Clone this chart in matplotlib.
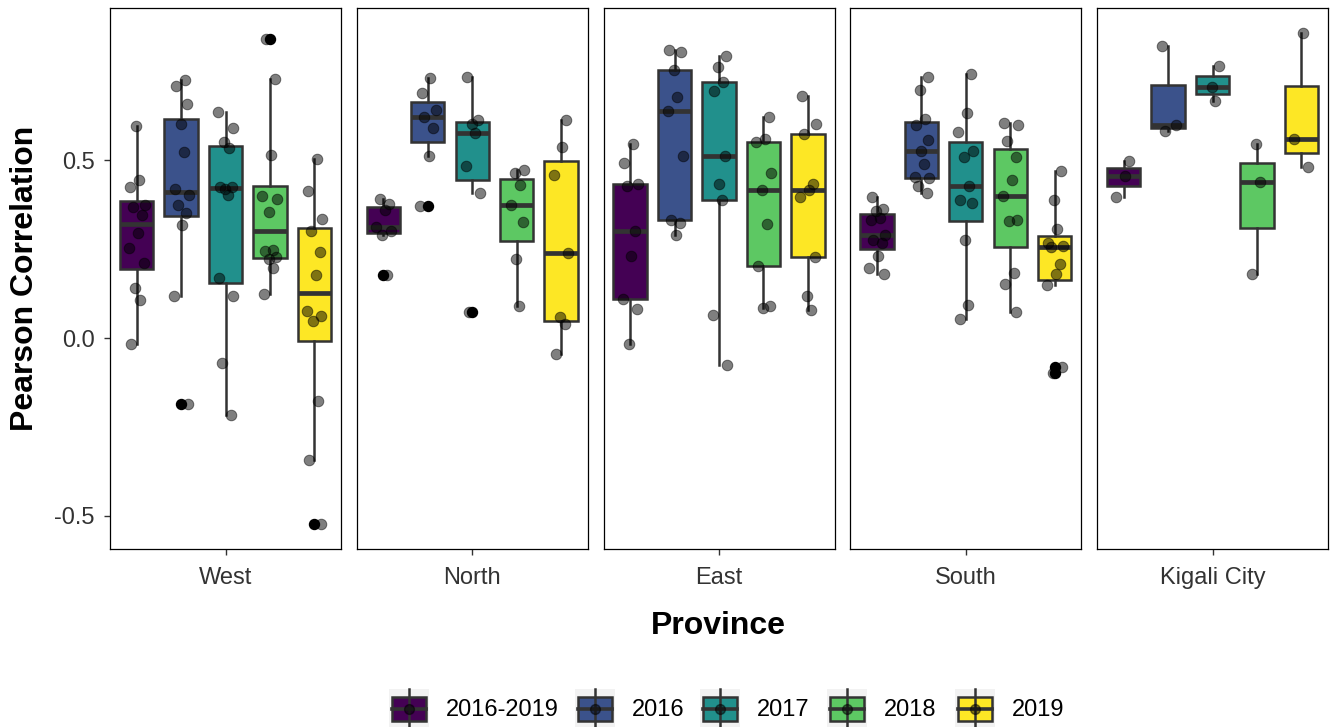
import numpy as np
import matplotlib
matplotlib.use("Agg")
import matplotlib.pyplot as plt
from matplotlib.patches import Rectangle

plt.rcParams['font.family'] = ['Liberation Sans', 'DejaVu Sans']

provinces = ['West', 'North', 'East', 'South', 'Kigali City']
years = ['2016-2019', '2016', '2017', '2018', '2019']
colors = ['#440154', '#3B528B', '#21908C', '#5DC863', '#FDE725']

# pearson correlation per district, one list per year group
west = [
    [-0.017, 0.106, 0.142, 0.212, 0.254, 0.296, 0.347, 0.369, 0.373, 0.425, 0.445, 0.595],
    [-0.186, 0.119, 0.319, 0.352, 0.375, 0.403, 0.419, 0.523, 0.602, 0.658, 0.710, 0.725],
    [-0.216, -0.070, 0.118, 0.169, 0.401, 0.419, 0.424, 0.425, 0.535, 0.550, 0.592, 0.637],
    [0.123, 0.198, 0.221, 0.228, 0.245, 0.249, 0.354, 0.391, 0.399, 0.515, 0.728, 0.842],
    [-0.524, -0.342, -0.178, 0.049, 0.063, 0.077, 0.176, 0.242, 0.301, 0.335, 0.413, 0.503],
]
north = [
    [0.177, 0.289, 0.301, 0.313, 0.361, 0.378, 0.391],
    [0.370, 0.513, 0.592, 0.621, 0.641, 0.688, 0.730],
    [0.074, 0.408, 0.483, 0.578, 0.601, 0.613, 0.735],
    [0.091, 0.221, 0.327, 0.373, 0.431, 0.464, 0.473],
    [-0.045, 0.039, 0.058, 0.240, 0.459, 0.537, 0.612],
]
east = [
    [-0.017, 0.083, 0.110, 0.232, 0.301, 0.429, 0.434, 0.492, 0.547],
    [0.291, 0.324, 0.331, 0.512, 0.638, 0.678, 0.753, 0.805, 0.810],
    [-0.077, 0.065, 0.389, 0.434, 0.513, 0.695, 0.720, 0.763, 0.793],
    [0.085, 0.090, 0.202, 0.322, 0.417, 0.464, 0.550, 0.560, 0.622],
    [0.078, 0.118, 0.229, 0.397, 0.417, 0.434, 0.575, 0.602, 0.680],
]
south = [
    [0.179, 0.198, 0.231, 0.268, 0.277, 0.291, 0.333, 0.338, 0.357, 0.363, 0.396],
    [0.409, 0.429, 0.449, 0.454, 0.489, 0.527, 0.557, 0.600, 0.615, 0.698, 0.735],
    [0.055, 0.093, 0.277, 0.381, 0.389, 0.429, 0.510, 0.525, 0.580, 0.632, 0.742],
    [0.073, 0.151, 0.184, 0.330, 0.331, 0.399, 0.444, 0.510, 0.555, 0.598, 0.605],
    [-0.097, -0.080, 0.149, 0.179, 0.207, 0.256, 0.260, 0.268, 0.308, 0.389, 0.470],
]
kigali = [
    [0.397, 0.457, 0.499],
    [0.582, 0.600, 0.822],
    [0.668, 0.707, 0.765],
    [0.179, 0.439, 0.547],
    [0.482, 0.560, 0.859],
]
by_province = [west, north, east, south, kigali]

# fixed horizontal spread for the points
jitter = [-0.12, 0.08, -0.03, 0.16, -0.17, 0.03, 0.12, -0.08, 0.18, -0.14, 0.06, -0.01, 0.14]

W, H = 1330, 727
fig = plt.figure(figsize=(W / 100, H / 100), dpi=100)

allv = np.concatenate([np.array(g) for p in by_province for g in p])
span = allv.max() - allv.min()
ylo, yhi = allv.min() - 0.05 * span, allv.max() + 0.05 * span

edge = '#333333'
pos = np.arange(1, 6)
for i, (prov, groups) in enumerate(zip(provinces, by_province)):
    ax = fig.add_axes([(110 + i * 246.75) / W, 1 - 549 / H, 231 / W, 541 / H])
    bp = ax.boxplot(groups, positions=pos, widths=0.75, patch_artist=True,
                    showcaps=False,
                    medianprops=dict(color=edge, lw=3.4),
                    boxprops=dict(edgecolor=edge, lw=1.8),
                    whiskerprops=dict(color=edge, lw=1.8),
                    flierprops=dict(marker='o', markerfacecolor='black',
                                    markeredgecolor='black', markersize=7.2))
    for patch, c in zip(bp['boxes'], colors):
        patch.set_facecolor(c)
    for k, g in enumerate(groups):
        offs = np.array([jitter[(j + 3 * k + i) % len(jitter)] for j in range(len(g))])
        ax.scatter(pos[k] + offs, g, s=58, color='black', alpha=0.5,
                   edgecolor='black', linewidths=0.7, zorder=3)
    ax.set_xlim(0.4, 5.6)
    ax.set_ylim(ylo, yhi)
    ax.set_xticks([3])
    ax.set_xticklabels([prov])
    ax.set_yticks([-0.5, 0, 0.5])
    ax.set_yticklabels(['-0.5', '0.0', '0.5'])
    ax.tick_params(labelsize=17, color=edge, labelcolor='#333333', length=4, width=1, pad=7)
    ax.tick_params(axis='x', pad=9)
    if i > 0:
        ax.tick_params(axis='y', left=False, labelleft=False)
    for sp in ax.spines.values():
        sp.set_color('black')
        sp.set_linewidth(0.9)

fig.text(25 / W, 1 - 278 / H, 'Pearson Correlation', rotation=90, fontsize=23,
         fontweight='bold', ha='center', va='center')
fig.text(718.5 / W, 1 - 626 / H, 'Province', fontsize=23, fontweight='bold',
         ha='center', va='center')

# legend with little boxplot keys
lax = fig.add_axes([0, 0, 1, 1])
lax.set_xlim(0, W)
lax.set_ylim(H, 0)
lax.axis('off')
key_lefts = [389, 575, 700, 827, 955]
for left, yr, c in zip(key_lefts, years, colors):
    xc = left + 20
    lax.add_patch(Rectangle((left, 689), 40, 40, facecolor='#F2F2F2', edgecolor='none'))
    lax.plot([xc, xc], [689, 729], color=edge, lw=1.8)
    lax.add_patch(Rectangle((left + 3, 697), 34, 24, facecolor=c, edgecolor=edge, lw=1.8))
    lax.plot([left + 3, left + 37], [709, 709], color=edge, lw=2.6)
    lax.scatter([xc], [709], s=50, color='black', alpha=0.5, zorder=3)
    lax.text(left + 57, 710, yr, fontsize=17, va='center')

fig.savefig('out.png', dpi=100)
